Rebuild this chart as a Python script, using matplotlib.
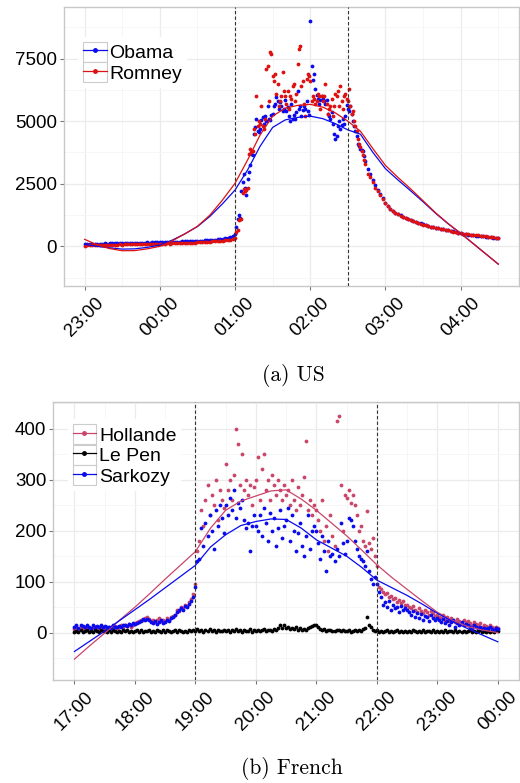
import numpy as np
import matplotlib
matplotlib.use('Agg')
import matplotlib.pyplot as plt
from matplotlib.lines import Line2D
from matplotlib.patches import Rectangle
from matplotlib.legend_handler import HandlerLine2D
from matplotlib.ticker import MultipleLocator

plt.rcParams['font.family'] = ['Liberation Sans', 'DejaVu Sans']

# ---------------- (a) US : minutes after 23:00 ----------------
us_ticks = [0, 60, 120, 180, 240, 300]
us_labels = ['23:00', '00:00', '01:00', '02:00', '03:00', '04:00']
us_vlines = [120, 210]   # 01:00, 02:30

# 2-min steps before 01:00 and after 02:45, 1-min steps in between
us_t = np.r_[np.arange(0, 120, 2), np.arange(120, 225), np.arange(226, 331, 2)]

obama = [
    80, 90, 85, 100, 95, 110, 100, 105, 115, 110, 120, 115, 125, 120, 130,
    125, 135, 130, 140, 135, 140, 145, 140, 150, 145, 155, 150, 160, 155, 160,
    165, 160, 170, 175, 170, 180, 185, 180, 190, 195, 200, 205, 200, 210, 215,
    225, 220, 230, 240, 245, 250, 260, 265, 275, 290, 300, 320, 340, 370, 420,
    480, 760, 1100, 1250, 1150, 2200, 2550, 2900, 2350, 2050,
    2700, 2950, 3250, 3700, 3650, 4500, 4750, 5100, 4600, 4550,
    4700, 5050, 5150, 4900, 5200, 5000, 5600, 5100, 5050, 5250,
    5300, 5600, 5700, 5950, 5800, 5500, 5750, 5600, 5400, 5500,
    5850, 5400, 5550, 5200, 5000, 5700, 5100, 5250, 5100, 5350,
    6200, 5500, 5600, 5200, 5450, 5600, 5500, 5800, 5400, 5250,
    9000, 7200, 6650, 6900, 6300, 6050, 5900, 5700, 5850, 6000,
    5900, 5800, 5700, 5850, 5300, 5200, 5100, 5350, 4900, 4500,
    4300, 4400, 4800, 5000, 4700, 4850, 5100, 4900, 5200, 5650,
    5500, 5400, 5600, 5300, 5000, 4800, 4600, 4400, 4100, 4000,
    3900, 3850, 3800, 3600, 3400,
    3100, 2900, 2650, 2450, 2250, 2100, 1950, 1750, 1600, 1500,
    1420, 1350, 1290, 1240, 1190, 1150, 1110, 1070, 1030, 990,
    950, 920, 880, 850, 820, 790, 770, 750, 720, 700,
    690, 670, 650, 620, 600, 580, 550, 520, 500, 480,
    470, 450, 440, 430, 420, 410, 400, 390, 370, 360,
    350, 340, 320]

romney = [
    30, 40, 35, 50, 45, 55, 50, 60, 55, 65, 60, 70, 65, 70, 75,
    70, 80, 75, 85, 80, 90, 85, 90, 95, 90, 100, 95, 100, 105, 100,
    105, 110, 105, 115, 110, 120, 115, 125, 120, 130, 135, 130, 140, 145, 150,
    155, 160, 165, 170, 180, 185, 195, 200, 210, 220, 230, 240, 255, 270, 300,
    350, 560, 650, 1050, 1100, 1080, 2150, 2300, 2200, 2250,
    2350, 3700, 3900, 3750, 3800, 4700, 4500, 6000, 4800, 5000,
    4900, 5600, 4800, 4700, 5100, 7100, 7200, 5800, 7750, 7700,
    6800, 6600, 6900, 6100, 6500, 5600, 5800, 6000, 6950, 6200,
    6000, 5700, 6200, 5500, 6000, 5900, 6400, 6500, 5800, 6100,
    7300, 7900, 8000, 6400, 6600, 5700, 5200, 6700, 6900, 6800,
    6600, 5800, 6000, 5900, 5700, 5800, 6100, 6000, 5500, 6000,
    5800, 6000, 6500, 5700, 5300, 5500, 5600, 5900, 5200, 5600,
    6100, 6000, 6200, 5600, 6400, 5800, 5500, 6000, 6100, 5900,
    5800, 6300, 5600, 5300, 5400, 5000, 4800, 4600, 4300, 4100,
    3950, 3800, 3650, 3450, 3300,
    2900, 2750, 2550, 2350, 2200, 2050, 1900, 1750, 1620, 1500,
    1420, 1350, 1290, 1230, 1180, 1140, 1100, 1050, 1000, 970,
    940, 900, 870, 840, 810, 780, 760, 740, 720, 700,
    680, 660, 640, 610, 590, 570, 540, 520, 500, 490,
    480, 470, 460, 450, 440, 430, 420, 400, 380, 370,
    360, 350, 330]

# smoothed trend lines, read every 10 min
us_fit_t = np.arange(0, 331, 10)
obama_fit = [80, 0, -60, -110, -100, -40,
             50, 250, 500, 790, 1200, 1700,
             2250, 3050, 4000, 4750, 5050, 5150,
             5200, 5100, 4900, 4650, 4480, 3750,
             3100, 2650, 2220, 1780, 1320, 900,
             520, 110, -300, -710]
romney_fit = [280, 60, -90, -175, -170, -100,
              0, 220, 500, 800, 1250, 1850,
              2520, 3450, 4450, 5200, 5520, 5630,
              5670, 5560, 5330, 5000, 4600, 3900,
              3230, 2750, 2300, 1820, 1340, 910,
              520, 110, -300, -710]

# ---------------- (b) French : minutes after 17:00 ----------------
fr_ticks = [0, 60, 120, 180, 240, 300, 360, 420]
fr_labels = ['17:00', '18:00', '19:00', '20:00', '21:00', '22:00', '23:00', '00:00']
fr_vlines = [120, 300]   # 19:00, 22:00
fr_t = np.arange(0, 421, 2)

hollande = [
    8, 10, 7, 12, 9, 8, 11, 10, 7, 9, 12, 8, 10, 9, 11,
    10, 8, 12, 9, 11, 13, 10, 12, 15, 11, 14, 13, 16, 12, 15,
    18, 20, 22, 25, 24, 28, 30, 26, 22, 25, 20, 24, 28, 22, 25,
    22, 28, 25, 30, 33, 35, 45, 42, 50, 48, 55, 52, 60, 65, 75,
    95, 160, 180, 240, 210, 260, 290, 230, 270, 250, 300, 220, 280, 260, 245,
    330, 280, 300, 260, 310, 400, 370, 290, 350, 280, 300, 270, 290, 250, 285,
    300, 345, 260, 320, 350, 280, 300, 260, 310, 290, 270, 300, 280, 260, 290,
    270, 280, 250, 300, 260, 240, 285, 250, 270, 305, 375, 240, 260, 230, 250,
    240, 220, 200, 260, 180, 210, 160, 230, 190, 170, 415, 425, 290, 200, 270,
    265, 280, 255, 270, 250, 230, 200, 210, 180, 170, 238, 175, 165, 185, 150,
    130, 90, 85, 80, 75, 78, 70, 72, 65, 68, 60, 64, 58, 62, 55,
    55, 50, 48, 52, 45, 40, 48, 42, 38, 45, 40, 35, 42, 38, 33,
    35, 30, 28, 34, 25, 30, 22, 28, 24, 20, 26, 22, 18, 24, 20,
    22, 18, 15, 20, 16, 14, 18, 12, 15, 13, 10, 14, 11, 9, 12, 10]

lepen = [
    1, 4, 2, 5, 1, 3, 6, 2, 4, 1, 5, 3, 2, 6, 3,
    4, 1, 5, 2, 6, 3, 1, 4, 2, 5, 3, 6, 2, 4, 1,
    3, 6, 2, 5, 1, 4, 3, 6, 2, 4, 1, 5, 3, 2, 6,
    2, 5, 3, 1, 4, 6, 2, 5, 3, 1, 4, 2, 6, 3, 5,
    4, 7, 3, 6, 2, 5, 4, 7, 3, 5, 2, 6, 4, 3, 5,
    3, 6, 2, 5, 4, 7, 3, 5, 2, 6, 4, 3, 7, 2, 5,
    4, 6, 3, 5, 7, 4, 6, 5, 3, 7, 6, 9, 14, 10, 15,
    9, 12, 7, 10, 8, 12, 6, 9, 5, 7, 6, 10, 12, 13, 15,
    14, 11, 8, 6, 7, 4, 5, 6, 3, 4, 5, 6, 3, 5, 4,
    3, 5, 2, 4, 6, 3, 5, 4, 7, 9, 30, 15, 11, 6, 4,
    5, 2, 4, 1, 3, 5, 2, 4, 1, 3, 5, 2, 4, 1, 3,
    2, 4, 1, 5, 3, 1, 4, 2, 5, 1, 3, 4, 2, 5, 1,
    3, 1, 4, 2, 5, 1, 3, 4, 2, 5, 1, 3, 2, 4, 1,
    3, 5, 1, 4, 2, 3, 5, 1, 4, 2, 3, 1, 4, 2, 5, 3]

sarkozy = [
    12, 15, 10, 14, 13, 11, 15, 12, 10, 14, 12, 13, 11, 15, 12,
    13, 11, 12, 10, 14, 12, 11, 13, 12, 14, 15, 13, 17, 15, 18,
    16, 18, 20, 22, 26, 24, 27, 25, 20, 18, 22, 17, 20, 24, 18,
    20, 25, 22, 28, 30, 35, 40, 44, 48, 45, 52, 50, 56, 62, 70,
    90, 140, 145, 205, 170, 215, 190, 230, 200, 165, 240, 210, 250, 225, 195,
    250, 230, 265, 240, 280, 225, 255, 245, 260, 220, 205, 215, 160, 210, 230,
    210, 200, 230, 190, 245, 215, 180, 235, 200, 225, 170, 205, 240, 185, 210,
    220, 245, 180, 230, 200, 160, 195, 215, 170, 150, 190, 230, 165, 200, 210,
    200, 175, 145, 190, 160, 120, 180, 150, 155, 140, 165, 150, 215, 175, 155,
    180, 225, 220, 210, 180, 165, 150, 145, 140, 130, 160, 120, 105, 95, 110,
    95, 80, 70, 55, 60, 50, 62, 45, 55, 48, 50, 40, 52, 44, 48,
    45, 40, 35, 42, 30, 38, 28, 36, 25, 32, 30, 22, 35, 28, 24,
    28, 24, 20, 26, 18, 22, 15, 20, 25, 12, 18, 15, 20, 14, 16,
    15, 12, 10, 14, 11, 9, 12, 8, 10, 7, 9, 11, 8, 6, 9, 7]

# smoothed trend lines, read every 15 min
fr_fit_t = np.arange(0, 421, 15)
hollande_fit = [-52, -26, -1, 25, 50, 77, 105, 132, 159, 205, 240, 258,
                268, 278, 280, 262, 240, 215, 190, 162, 133, 108, 85, 62,
                40, 24, 12, 5, 0]
sarkozy_fit = [-37, -17, 3, 24, 45, 66, 88, 110, 132, 168, 192, 210,
               218, 223, 222, 205, 182, 166, 150, 128, 103, 88, 73, 56,
               38, 22, 8, -5, -18]

BLUE = '#0a0aee'
RED = '#dd1111'
PINK = '#c9466a'


class KeyHandler(HandlerLine2D):
    # ggplot-like legend key: line + point inside a grey-edged box
    def create_artists(self, legend, orig_handle, xdescent, ydescent,
                       width, height, fontsize, trans):
        box = Rectangle((-xdescent, -ydescent), width, height, facecolor='white',
                        edgecolor='#cccccc', lw=0.8, transform=trans)
        arts = super().create_artists(legend, orig_handle, xdescent, ydescent,
                                      width, height, fontsize, trans)
        return [box] + arts


def style_axes(ax, xlim, ylim, xticks, xlabels, yticks, xminor, yminor):
    ax.set_xlim(xlim)
    ax.set_ylim(ylim)
    ax.set_xticks(xticks)
    ax.set_xticklabels(xlabels, rotation=45, ha='center')
    ax.set_yticks(yticks)
    ax.xaxis.set_minor_locator(MultipleLocator(xminor))
    ax.yaxis.set_minor_locator(MultipleLocator(yminor))
    ax.grid(which='major', color='#ebebeb', lw=0.9)
    ax.grid(which='minor', color='#f6f6f6', lw=0.7)
    ax.set_axisbelow(True)
    ax.tick_params(which='minor', length=0)
    ax.tick_params(which='major', length=3, color='#777777', labelsize=13.5)
    ax.tick_params(axis='x', pad=3)
    ax.tick_params(axis='y', pad=2)
    for sp in ax.spines.values():
        sp.set_color('#c8c8c8')
        sp.set_linewidth(1.0)


def add_legend(ax, names, colors, anchor):
    handles = [Line2D([], [], color=c, lw=0.9, marker='o', markersize=2.5) for c in colors]
    leg = ax.legend(handles, names, loc='upper left', bbox_to_anchor=anchor,
                    borderaxespad=0, borderpad=0.25, handlelength=1.2, handleheight=1.2,
                    handletextpad=0.15, labelspacing=0, fontsize=14, frameon=True,
                    fancybox=False, handler_map={Line2D: KeyHandler(numpoints=1)})
    leg.get_frame().set_edgecolor('none')
    leg.get_frame().set_facecolor('white')
    leg.get_frame().set_alpha(1)


fig = plt.figure(figsize=(5.2, 7.83), dpi=100)

# ---- top panel ----
ax1 = fig.add_axes([0.123, 0.6347, 0.875, 0.3563])
ax1.scatter(us_t, obama, s=7.5, color=BLUE, lw=0, zorder=3)
ax1.scatter(us_t, romney, s=7.5, color=RED, lw=0, zorder=3)
ax1.plot(us_fit_t, obama_fit, color=BLUE, lw=0.9, zorder=4)
ax1.plot(us_fit_t, romney_fit, color=RED, lw=0.9, zorder=4)
for v in us_vlines:
    ax1.axvline(v, color='#333333', ls=(0, (3, 2)), lw=0.8, zorder=5)
style_axes(ax1, (-16.5, 346.5), (-1585, 9557), us_ticks, us_labels,
           [0, 2500, 5000, 7500], 30, 1250)
add_legend(ax1, ['Obama', 'Romney'], [BLUE, RED], (0.0316, 0.893))

# ---- bottom panel ----
ax2 = fig.add_axes([0.1025, 0.1315, 0.8955, 0.3555])
ax2.scatter(fr_t, hollande, s=7.5, color=PINK, lw=0, zorder=3)
ax2.scatter(fr_t, lepen, s=7.5, color='black', lw=0, zorder=3)
ax2.scatter(fr_t, sarkozy, s=7.5, color=BLUE, lw=0, zorder=3)
ax2.plot(fr_fit_t, hollande_fit, color=PINK, lw=0.9, zorder=4)
ax2.plot(fr_fit_t, sarkozy_fit, color=BLUE, lw=0.9, zorder=4)
for v in fr_vlines:
    ax2.axvline(v, color='#333333', ls=(0, (3, 2)), lw=0.8, zorder=5)
style_axes(ax2, (-21, 441), (-93, 453), fr_ticks, fr_labels,
           [0, 100, 200, 300, 400], 30, 50)
add_legend(ax2, ['Hollande', 'Le Pen', 'Sarkozy'], [PINK, 'black', BLUE], (0.0311, 0.9361))

# sub-captions
fig.text(0.5635, 1 - 375 / 783, '(a) US', ha='center', va='center',
         fontsize=15.5, family='cmr10')
fig.text(0.561, 1 - 769 / 783, '(b) French', ha='center', va='center',
         fontsize=15.5, family='cmr10')

fig.savefig('out.png', dpi=100)
plt.close()
